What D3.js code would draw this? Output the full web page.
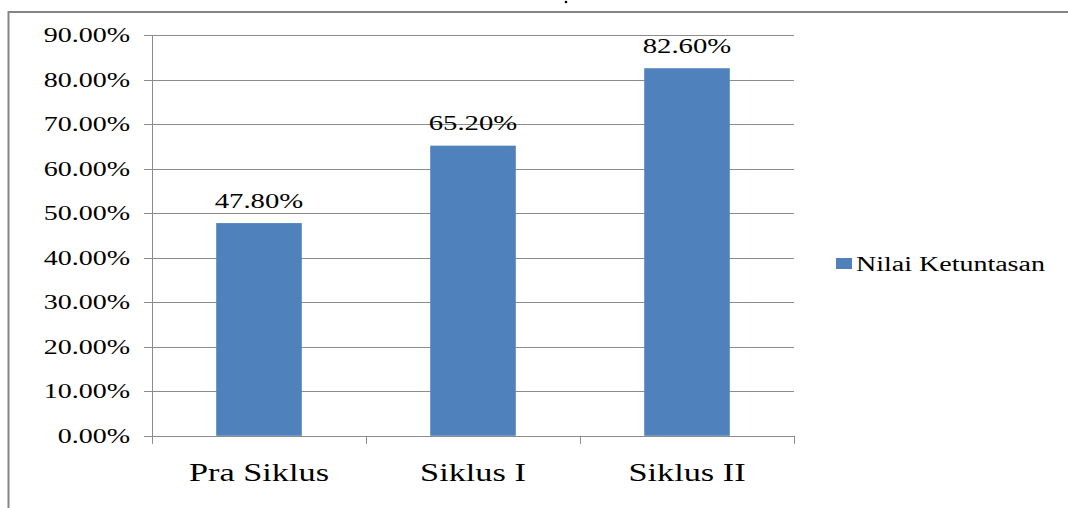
<!DOCTYPE html>
<html>
<head>
<meta charset="utf-8">
<script src="https://cdn.jsdelivr.net/npm/d3@7/dist/d3.min.js"></script>
<style>
  html, body { margin: 0; padding: 0; background: #fff; }
  svg { display: block; }
</style>
</head>
<body>
<svg id="chart" width="1068" height="508"></svg>
<script>
const categories = ["Pra Siklus", "Siklus I", "Siklus II"];
const values = [0.478, 0.652, 0.826];
const seriesName = "Nilai Ketuntasan";
const yTicks = [0, 0.1, 0.2, 0.3, 0.4, 0.5, 0.6, 0.7, 0.8, 0.9];

(function () {
const svg = d3.select("#chart");
const FONT = '"Liberation Serif"';
const SX = 1.4; // horizontal stretch of text in the reference
const barColor = "#4F81BD";
const gridColor = "#8C8C8C";

function stretch(sel) {
  sel.each(function () {
    const w = this.getComputedTextLength();
    d3.select(this).attr("textLength", w * SX).attr("lengthAdjust", "spacingAndGlyphs");
  });
}

// frame
svg.append("path")
  .attr("d", "M8.5,508 L8.5,12 L1068,12")
  .attr("fill", "none").attr("stroke", "#858585").attr("stroke-width", 2);
svg.append("circle").attr("cx", 566).attr("cy", 2).attr("r", 1.3).attr("fill", "#000");

const pLeft = 152, pRight = 794, pTop = 35.3, pBottom = 435.8;
const x = d3.scaleBand().domain(categories).range([pLeft, pRight]).paddingInner(0.6).paddingOuter(0.3);
const xc = d3.scaleBand().domain(categories).range([pLeft, pRight]).padding(0);
const y = d3.scaleLinear().domain([0, 0.9]).range([pBottom, pTop]);

// gridlines + y ticks
svg.append("g").selectAll("line").data(yTicks).join("line")
  .attr("x1", pLeft - 8).attr("x2", pRight)
  .attr("y1", d => Math.round(y(d)) + 0.5).attr("y2", d => Math.round(y(d)) + 0.5)
  .attr("stroke", gridColor).attr("stroke-width", 1);

// y axis line
svg.append("line").attr("x1", pLeft + 0.5).attr("x2", pLeft + 0.5)
  .attr("y1", pTop).attr("y2", pBottom + 8).attr("stroke", gridColor);

// category ticks
const catEdges = categories.map(c => xc(c)).concat([pRight]);
svg.append("g").selectAll("line").data(catEdges.slice(1)).join("line")
  .attr("x1", d => Math.round(d) + 0.5).attr("x2", d => Math.round(d) + 0.5)
  .attr("y1", pBottom).attr("y2", pBottom + 8).attr("stroke", gridColor);

// y tick labels
const fmt = d3.format(".2%");
svg.append("g").selectAll("text").data(yTicks).join("text")
  .attr("x", pLeft - 22).attr("y", d => y(d) + 7)
  .attr("text-anchor", "end").attr("font-size", 20).attr("fill", "#000")
  .style("font-family", FONT)
  .text(d => fmt(d))
  .call(stretch);

// bars
svg.append("g").selectAll("rect").data(values).join("rect")
  .attr("x", (d, i) => x(categories[i]))
  .attr("width", x.bandwidth())
  .attr("y", d => y(d))
  .attr("height", d => pBottom - y(d))
  .attr("fill", barColor);

// data labels
svg.append("g").selectAll("text").data(values).join("text")
  .attr("x", (d, i) => x(categories[i]) + x.bandwidth() / 2).attr("y", d => y(d) - 15.5)
  .attr("text-anchor", "middle").attr("font-size", 20.5).attr("fill", "#000")
  .style("font-family", FONT)
  .text(d => fmt(d))
  .call(stretch);

// category labels
svg.append("g").selectAll("text").data(categories).join("text")
  .attr("x", d => xc(d) + xc.bandwidth() / 2).attr("y", 481)
  .attr("text-anchor", "middle").attr("font-size", 24.5).attr("fill", "#000")
  .style("font-family", FONT)
  .text(d => d)
  .call(stretch);

// legend
svg.append("rect").attr("x", 836).attr("y", 258).attr("width", 16).attr("height", 11).attr("fill", barColor);
svg.append("text")
  .attr("x", 856).attr("y", 271)
  .attr("font-size", 20).attr("fill", "#000")
  .style("font-family", FONT)
  .text(seriesName)
  .call(stretch);
})();
</script>
</body>
</html>
